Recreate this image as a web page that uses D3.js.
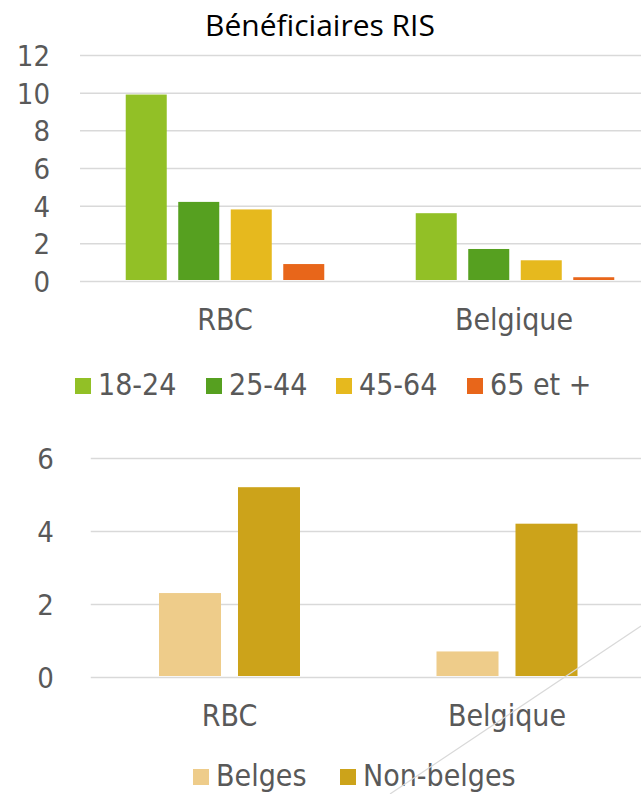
<!DOCTYPE html>
<meta charset="utf-8">
<style>
    body { margin: 0; background: #fff; }
    svg { display: block; }
    .tick text, .cat, .legend text {
        font-family: "DejaVu Sans Condensed", "DejaVu Sans", sans-serif;
        font-stretch: condensed;
        font-size: 30px;
        fill: #595959;
    }
    .tick text { font-size: 29px; }
    .title {
        font-family: "Open Sans", "Noto Sans", sans-serif;
        font-size: 30px;
        fill: #000;
    }
    .grid line { stroke: #d9d9d9; stroke-width: 1.5px; }
    .grid .domain { display: none; }
</style>
<svg width="641" height="794"></svg>
<script src="https://d3js.org/d3.v7.min.js"></script>
<script>

    // top chart: beneficiaires RIS by age
    var regions = ["RBC", "Belgique"];
    var ageGroups = ["18-24", "25-44", "45-64", "65 et +"];
    var ageValues = [
        [9.9, 4.2, 3.8, 0.9],   // RBC
        [3.6, 1.7, 1.1, 0.2]    // Belgique
    ];
    var ageColors = ["#92c026", "#56a020", "#e6b91e", "#e8661a"];
    var ageTicks = [0, 2, 4, 6, 8, 10, 12];

    // bottom chart: by nationality
    var nationalities = ["Belges", "Non-belges"];
    var natValues = [
        [2.3, 5.2],   // RBC
        [0.7, 4.2]    // Belgique
    ];
    var natColors = ["#eecc8a", "#cca31a"];
    var natTicks = [0, 2, 4, 6];

    var svg = d3.select("svg");

    function barChart(opt) {
        var g = svg.append("g");

        var y = d3.scaleLinear().domain(opt.yDomain).range([opt.y0, opt.y1]);
        var x0 = d3.scaleBand().domain(regions).range([opt.x0, opt.x1]);
        var x1 = d3.scaleBand().domain(opt.series)
            .range([0, x0.bandwidth()])
            .paddingInner(opt.pIn).paddingOuter(opt.pOut);

        var axis = d3.axisLeft(y)
            .tickValues(opt.ticks)
            .tickFormat(d3.format("d"))
            .tickSize(-(641 - opt.x0))
            .tickPadding(opt.labelGap);

        g.append("g")
            .attr("class", "grid")
            .attr("transform", "translate(" + opt.x0 + ",0)")
            .call(axis)
            .selectAll("text")
            .attr("dy", "0.36em");

        var groups = g.selectAll(".grp")
            .data(regions)
            .enter().append("g")
            .attr("class", "grp")
            .attr("transform", function (d) { return "translate(" + x0(d) + ",0)"; });

        groups.selectAll("rect")
            .data(function (d, i) {
                return opt.values[i].map(function (v, j) { return {s: opt.series[j], v: v, c: opt.colors[j]}; });
            })
            .enter().append("rect")
            .attr("x", function (d) { return x1(d.s); })
            .attr("width", x1.bandwidth())
            .attr("y", function (d) { return y(d.v); })
            .attr("height", function (d) { return y(0) - y(d.v) - 1; })
            .attr("fill", function (d) { return d.c; });

        g.selectAll(".cat")
            .data(regions)
            .enter().append("text")
            .attr("class", "cat")
            .attr("x", function (d) { return x0(d) + x0.bandwidth() / 2 + (d === "Belgique" ? opt.belShift : 0); })
            .attr("y", opt.catY)
            .attr("text-anchor", "middle")
            .text(function (d) { return d; });

        // legend
        var leg = g.append("g").attr("class", "legend");
        var items = leg.selectAll("g")
            .data(opt.series)
            .enter().append("g")
            .attr("transform", function (d, i) { return "translate(" + opt.legX[i] + "," + opt.legY + ")"; });
        items.append("rect")
            .attr("width", 16).attr("height", 16)
            .attr("y", -17)
            .attr("fill", function (d, i) { return opt.colors[i]; });
        items.append("text")
            .attr("x", 23)
            .attr("y", 0)
            .text(function (d) { return d; });
    }

    svg.append("text")
        .attr("class", "title")
        .attr("x", 320)
        .attr("y", 36)
        .attr("text-anchor", "middle")
        .text("Bénéficiaires RIS");

    barChart({
        series: ageGroups, values: ageValues, colors: ageColors, ticks: ageTicks,
        yDomain: [0, 12], y0: 281, y1: 55,
        x0: 80, x1: 660, pIn: 0.219, pOut: 0.871, labelGap: 30,
        catY: 330, belShift: -1,
        legX: [75, 206, 336, 467], legY: 395
    });

    barChart({
        series: nationalities, values: natValues, colors: natColors, ticks: natTicks,
        yDomain: [0, 6], y0: 677, y1: 458,
        x0: 90.75, x1: 645.75, pIn: 0.215, pOut: 0.864, labelGap: 37,
        catY: 726, belShift: 0,
        legX: [193, 340], legY: 786
    });

    // stray connector line crossing the lower chart
    svg.append("line")
        .attr("x1", 390).attr("y1", 794)
        .attr("x2", 641).attr("y2", 626)
        .attr("stroke", "#d9d9d9")
        .attr("stroke-width", 1.2);

</script>
